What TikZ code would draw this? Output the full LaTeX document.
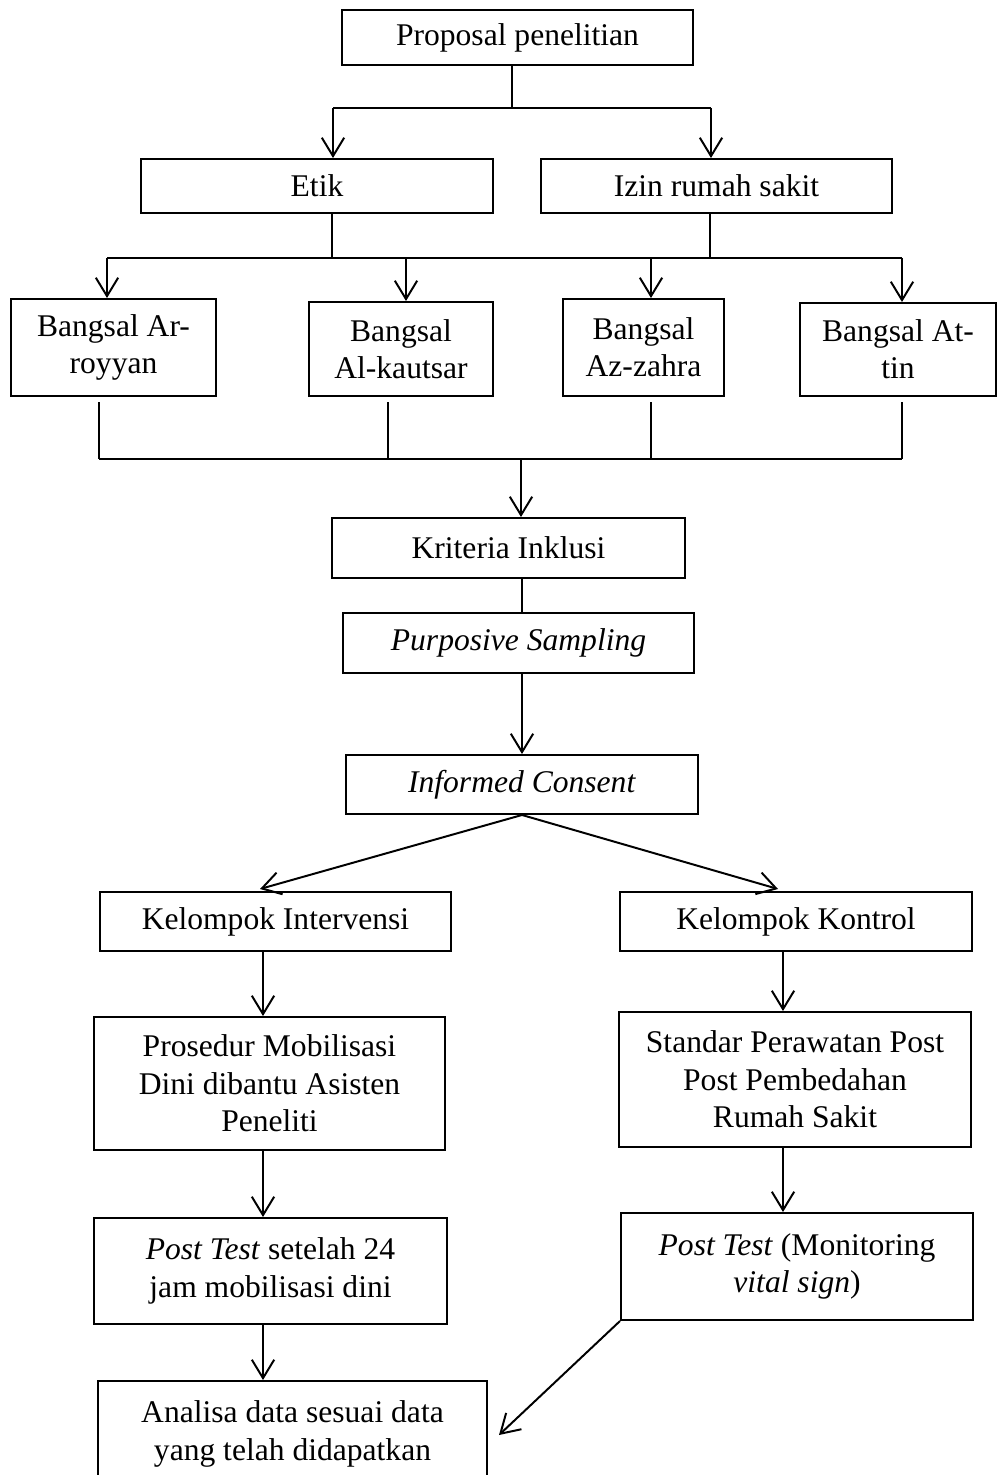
\documentclass[tikz,border=0pt]{standalone}
\usepackage{fontspec}
\setmainfont{Liberation Serif}
\usetikzlibrary{arrows.meta,positioning,calc}

\tikzset{
    box/.style={draw,line width=0.75pt,align=center,inner sep=0pt,font=\fontsize{12}{14.2}\selectfont},
    dim/.style n args={2}{minimum width=#1*0.38pt,minimum height=#2*0.38pt},
    arr/.style={-{Straight Barb[length=7pt,width=8.5pt]},line width=0.75pt},
    ln/.style={line width=0.75pt}
}

\begin{document}
\begin{tikzpicture}[x=0.38pt,y=-0.38pt]
        \useasboundingbox (0,0) rectangle (996,1475);

        %%%% Top =========================================
        % Boxes
        \node[box,dim={351}{55}] (prop) at (517.5,37.5) {Proposal penelitian};
        \node[box,dim={352}{54}] (etik) at (317,186) {Etik};
        \node[box,dim={351}{54}] (izin) at (716.5,186) {Izin rumah sakit};

        % Junction points
        \coordinate (j0) at (512,108);
        \coordinate (j1) at (333,108);
        \coordinate (j2) at (711,108);

        % Arcs
        \draw[ln] (prop.south -| j0) -- (j0);
        \draw[ln] (j1) -- (j2);
        \draw[arr] (j1) -- (j1 |- etik.north);
        \draw[arr] (j2) -- (j2 |- izin.north);

        %%%% Bangsal =====================================
        % Boxes
        \node[box,dim={205}{97}] (ar) at (113.5,347.5) {Bangsal Ar-\\royyan};
        \node[box,dim={184}{94}] (alk) at (401,349) {Bangsal\\Al-kautsar};
        \node[box,dim={161}{97}] (azz) at (643.5,347.5) {Bangsal\\Az-zahra};
        \node[box,dim={196}{93}] (att) at (898,349.5) {Bangsal At-\\tin};

        % Junction points
        \coordinate (e1) at (332,258);
        \coordinate (e2) at (710,258);
        \coordinate (b0) at (107,258);
        \coordinate (b1) at (406,258);
        \coordinate (b2) at (651,258);
        \coordinate (b3) at (902,258);

        % Arcs
        \draw[ln] (etik.south -| e1) -- (e1);
        \draw[ln] (izin.south -| e2) -- (e2);
        \draw[ln] (b0) -- (b3);
        \draw[arr] (b0) -- (b0 |- ar.north);
        \draw[arr] (b1) -- (b1 |- alk.north);
        \draw[arr] (b2) -- (b2 |- azz.north);
        \draw[arr] (b3) -- (b3 |- att.north);

        %%%% Sampling ====================================
        % Boxes
        \node[box,dim={353}{60}] (kri) at (508.5,548) {Kriteria Inklusi};
        \node[box,dim={351}{60}] (pur) at (518.5,643) {\textit{Purposive Sampling}};
        \node[box,dim={352}{59}] (inf) at (522,784.5) {\textit{Informed Consent}};

        % Junction points
        \coordinate (c0) at (99,459);
        \coordinate (c1) at (388,459);
        \coordinate (c2) at (651,459);
        \coordinate (c3) at (902,459);
        \coordinate (c4) at (521,459);
        \coordinate (mcol) at (522,0);

        % Arcs
        \draw[ln,shorten <=2pt] (ar.south -| c0) -- (c0);
        \draw[ln,shorten <=2pt] (alk.south -| c1) -- (c1);
        \draw[ln,shorten <=2pt] (azz.south -| c2) -- (c2);
        \draw[ln,shorten <=2pt] (att.south -| c3) -- (c3);
        \draw[ln] (c0) -- (c3);
        \draw[arr] (c4) -- (c4 |- kri.north);
        \draw[ln] (kri.south -| mcol) -- (pur.north -| mcol);
        \draw[arr] (inf.north |- pur.south) -- (inf.north);

        %%%% Groups ======================================
        % Boxes
        \node[box,dim={351}{59}] (ki) at (275.5,921.5) {Kelompok Intervensi};
        \node[box,dim={352}{59}] (kk) at (796,921.5) {Kelompok Kontrol};
        \node[box,dim={351}{133}] (pro) at (269.5,1083.5) {Prosedur Mobilisasi\\Dini dibantu Asisten\\Peneliti};
        \node[box,dim={352}{135}] (std) at (795,1079.5) {Standar Perawatan Post\\Post Pembedahan\\Rumah Sakit};
        \node[box,dim={353}{106}] (pt1) at (270.5,1271) {\textit{Post Test} setelah 24\\jam mobilisasi dini};
        \node[box,dim={352}{107}] (pt2) at (797,1266.5) {\textit{Post Test} (Monitoring\\\textit{vital sign})};
        \node[box,dim={389}{106}] (ana) at (292.5,1434) {Analisa data sesuai data\\yang telah didapatkan};

        % Arrow ends
        \coordinate (kitip) at (260,889);
        \coordinate (kktip) at (778,889);
        \coordinate (lcol) at (263,0);
        \coordinate (rcol) at (783,0);
        \coordinate (anatip) at (499,1435);

        % Arcs
        \draw[arr] (inf.south) -- (kitip);
        \draw[arr] (inf.south) -- (kktip);
        \draw[arr] (ki.south -| lcol) -- (pro.north -| lcol);
        \draw[arr] (pro.south -| lcol) -- (pt1.north -| lcol);
        \draw[arr] (pt1.south -| lcol) -- (ana.north -| lcol);
        \draw[arr] (kk.south -| rcol) -- (std.north -| rcol);
        \draw[arr] (std.south -| rcol) -- (pt2.north -| rcol);
        \draw[arr] (pt2.south west) -- (anatip);
    \end{tikzpicture}
\end{document}
